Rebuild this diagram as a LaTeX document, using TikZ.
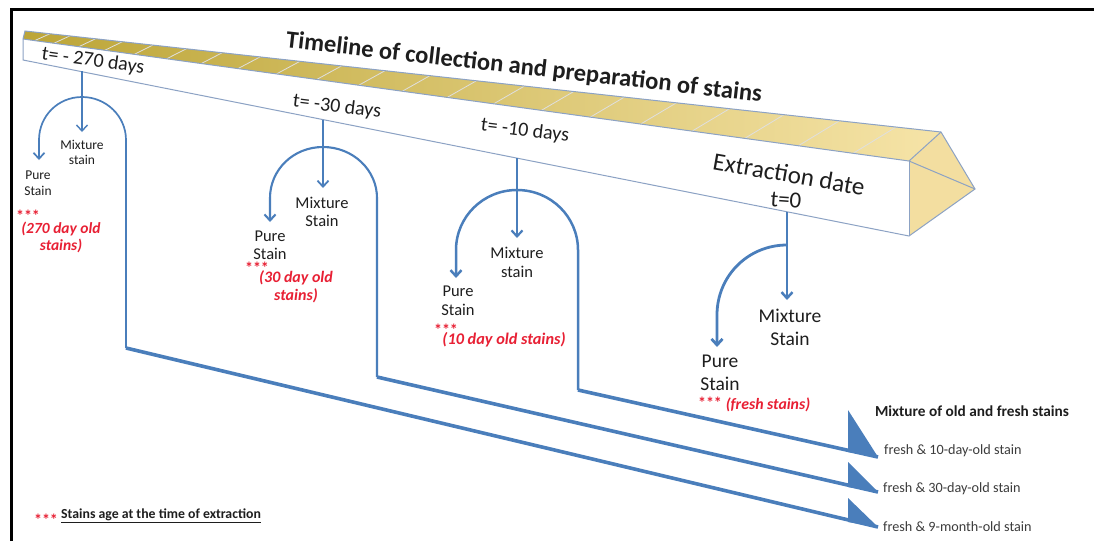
\documentclass[tikz,border=0pt]{standalone}
\usepackage{fontspec}
\setmainfont{Carlito}
\usetikzlibrary{arrows.meta,calc}
\definecolor{lblue}{RGB}{74,126,187}
\definecolor{edgec}{RGB}{140,162,196}
\definecolor{redtxt}{RGB}{232,32,52}
\definecolor{ink}{RGB}{30,30,30}
\definecolor{graytxt}{RGB}{60,60,60}
\definecolor{endface}{RGB}{243,222,160}
\definecolor{stripA}{RGB}{188,165,55}
\definecolor{stripB}{RGB}{232,202,78}
\definecolor{stripC}{RGB}{246,228,168}
\begin{document}
\begin{tikzpicture}[x=1pt,y=-1pt,
  tipA/.style={-{Straight Barb[length=6pt,width=11pt]}},
  stem/.style={lblue, line width=#1},
  flowline/.style={lblue, line width=3.6pt},
  halfhead/.style={fill=lblue},
  mix/.style 2 args={text=ink, align=center, inner sep=0pt, font=\fontsize{#1}{#2}\selectfont},
  redl/.style 2 args={text=redtxt, align=center, inner sep=0pt, font=\bfseries\itshape\fontsize{#1}{#2}\selectfont},
  stars/.style={text=redtxt, inner sep=0pt, font=\bfseries\fontsize{#1}{#1}\selectfont},
  tlab/.style={text=ink, inner sep=0pt, font=\fontsize{#1}{#1}\selectfont},
  rlab/.style={text=graytxt, inner sep=0pt, anchor=west, font=\fontsize{14.2}{16}\selectfont},
  prismedge/.style={draw=edgec, line width=1pt}
]
\useasboundingbox (0,0) rectangle (1094,541);
\fill[white] (0,0) rectangle (1094,541);
% frame
\coordinate (frBL) at (11,541);
\coordinate (frTL) at (11,9);
\coordinate (frTR) at (1094,9);
\draw[line width=3pt] (frBL) -- (frTL) -- (frTR);

% prism
\coordinate (BL) at (25,31);
\coordinate (FTL) at (23,39);
\coordinate (FBL) at (23,60);
\coordinate (BR) at (941,132);
\coordinate (FTR) at (909,161);
\coordinate (FBR) at (909,236);
\coordinate (TIP) at (975,189);
\fill[white] (FTL) -- (FTR) -- (FBR) -- (FBL) -- cycle;
\shade[left color=stripA, middle color=stripB, right color=stripC] (BL) -- (BR) -- (FTR) -- (FTL) -- cycle;
\foreach \i in {1,...,21} {
  \pgfmathsetmacro\tt{(\i/22)^1.4}
  \pgfmathsetmacro\tb{min(\tt+0.014,1)}
  \draw[white!75!gray, line width=0.8pt] ($(FTL)!\tt!(FTR)$) -- ($(BL)!\tb!(BR)$);
}
\fill[endface] (FTR) -- (BR) -- (TIP) -- (FBR) -- cycle;
\draw[prismedge] (BL) -- (BR) -- (TIP) -- (FBR) -- (FBL) -- (FTL) -- cycle;
\draw[prismedge] (FTL) -- (FTR) -- (BR);
\draw[prismedge] (FTR) -- (FBR);
\draw[prismedge] (FTR) -- (TIP);

% titles on the prism
\node[text=ink, inner sep=0pt, rotate=-6.5, font=\bfseries\fontsize{24.5}{28}\selectfont] (title) at (524,68) {Timeline of collection and preparation of stains};
\node[tlab=20, rotate=-8] (t270) at (93,61) {t= - 270 days};
\node[tlab=20, rotate=-7] (t30) at (337,107) {t= -30 days};
\node[tlab=20, rotate=-7] (t10) at (525,131) {t= -10 days};
\node[tlab=25, rotate=-10] (extr) at (789,174) {Extraction date};
\node[tlab=23, rotate=-4] (t0) at (786,200) {t=0};

% group 1 (t = -270)
\coordinate (g1s) at (82,71);
\coordinate (g1top) at (82,97);
\coordinate (g1tip) at (82,132);
\coordinate (g1L) at (39,140);
\coordinate (g1Lt) at (39,160);
\coordinate (g1R) at (126,140);
\coordinate (g1C) at (126,348);
% group 2 (t = -30)
\coordinate (g2s) at (323,120);
\coordinate (g2top) at (323,147);
\coordinate (g2tip) at (323,188);
\coordinate (g2L) at (270,198);
\coordinate (g2Lt) at (270,222);
\coordinate (g2R) at (377,198);
\coordinate (g2C) at (377,377);
% group 3 (t = -10)
\coordinate (g3s) at (517,158);
\coordinate (g3top) at (517,190);
\coordinate (g3tip) at (517,238);
\coordinate (g3L) at (456,250);
\coordinate (g3Lt) at (456,278);
\coordinate (g3R) at (578,250);
\coordinate (g3C) at (578,390);
% group 4 (t = 0)
\coordinate (g4s) at (787,212);
\coordinate (g4top) at (787,245);
\coordinate (g4tip) at (787,300);
\coordinate (g4L) at (717,315);
\coordinate (g4Lt) at (717,347);
% arrow tips on the right
\coordinate (a1) at (878,457);
\coordinate (a2) at (878,492);
\coordinate (a3) at (878,527);

% stems (mixture arrows)
\draw[stem=1.4pt, tipA] (g1s) -- (g1tip);
\draw[stem=1.8pt, tipA] (g2s) -- (g2tip);
\draw[stem=2.2pt, tipA] (g3s) -- (g3tip);
\draw[stem=2.5pt, tipA] (g4s) -- (g4tip);
% pure arrows
\draw[stem=1.7pt, tipA] (g1top) .. controls +(-24,0) and +(0,-24) .. (g1L) -- (g1Lt);
\draw[stem=2.1pt, tipA] (g2top) .. controls +(-30,0) and +(0,-28) .. (g2L) -- (g2Lt);
\draw[stem=2.5pt, tipA] (g3top) .. controls +(-34,0) and +(0,-33) .. (g3L) -- (g3Lt);
\draw[stem=2.8pt, tipA] (g4top) .. controls +(-39,0) and +(0,-39) .. (g4L) -- (g4Lt);
% carry lines
\draw[stem=1.7pt] (g1top) .. controls +(24,0) and +(0,-24) .. (g1R) -- (g1C);
\draw[stem=2.1pt] (g2top) .. controls +(30,0) and +(0,-28) .. (g2R) -- (g2C);
\draw[stem=2.5pt] (g3top) .. controls +(34,0) and +(0,-33) .. (g3R) -- (g3C);
\draw[flowline] (g1C) -- (a3);
\draw[flowline] (g2C) -- (a2);
\draw[flowline] (g3C) -- (a1);
\fill[halfhead] (848,410) -- (a1) -- (848,452) -- cycle;
\fill[halfhead] (848,462) -- (a2) -- (848,487) -- cycle;
\fill[halfhead] (848,498) -- (a3) -- (848,522) -- cycle;

% labels group 1
\node[mix={13.5}{15}] (g1mix) at (82,152) {Mixture\\stain};
\node[mix={13.5}{16}] (g1pure) at (38,183) {Pure\\Stain};
\node[stars=16] (g1star) at (28,216) {***};
\node[redl={15.5}{17}] (g1age) at (61,237) {(270 day old\\stains)};
% group 2
\node[mix={16.5}{18}] (g2mix) at (322,212) {Mixture\\Stain};
\node[mix={16.5}{18}] (g2pure) at (270,245) {Pure\\Stain};
\node[stars=16] (g2star) at (257,268) {***};
\node[redl={16}{18}] (g2age) at (296,287) {(30 day old\\stains)};
% group 3
\node[mix={16.5}{19}] (g3mix) at (517,262) {Mixture\\stain};
\node[mix={16.5}{19}] (g3pure) at (458,301) {Pure\\Stain};
\node[stars=16] (g3star) at (446,330) {***};
\node[redl={16.3}{17}] (g3age) at (504,340) {(10 day old stains)};
% group 4
\node[mix={19.5}{23}] (g4mix) at (790,327) {Mixture\\Stain};
\node[mix={19.5}{23}] (g4pure) at (720,373) {Pure\\Stain};
\node[stars=16] (g4star) at (710,403) {***};
\node[redl={15.8}{16}] (g4age) at (768,405) {(fresh stains)};

% right column
\node[text=ink, inner sep=0pt, font=\bfseries\fontsize{15.3}{17}\selectfont] (mixhead) at (972,411) {Mixture of old and fresh stains};
\node[rlab] (r1) at (884,451) {fresh \& 10-day-old stain};
\node[rlab] (r2) at (883,489) {fresh \& 30-day-old stain};
\node[rlab] (r3) at (883,527) {fresh \& 9-month-old stain};

% legend
\node[stars=16] (lstar) at (46,520) {***};
\node[text=ink, inner sep=0pt, anchor=west, font=\bfseries\fontsize{13.8}{15}\selectfont] (legend) at (61,516) {\underline{Stains age at the time of extraction}};
\end{tikzpicture}
\end{document}
